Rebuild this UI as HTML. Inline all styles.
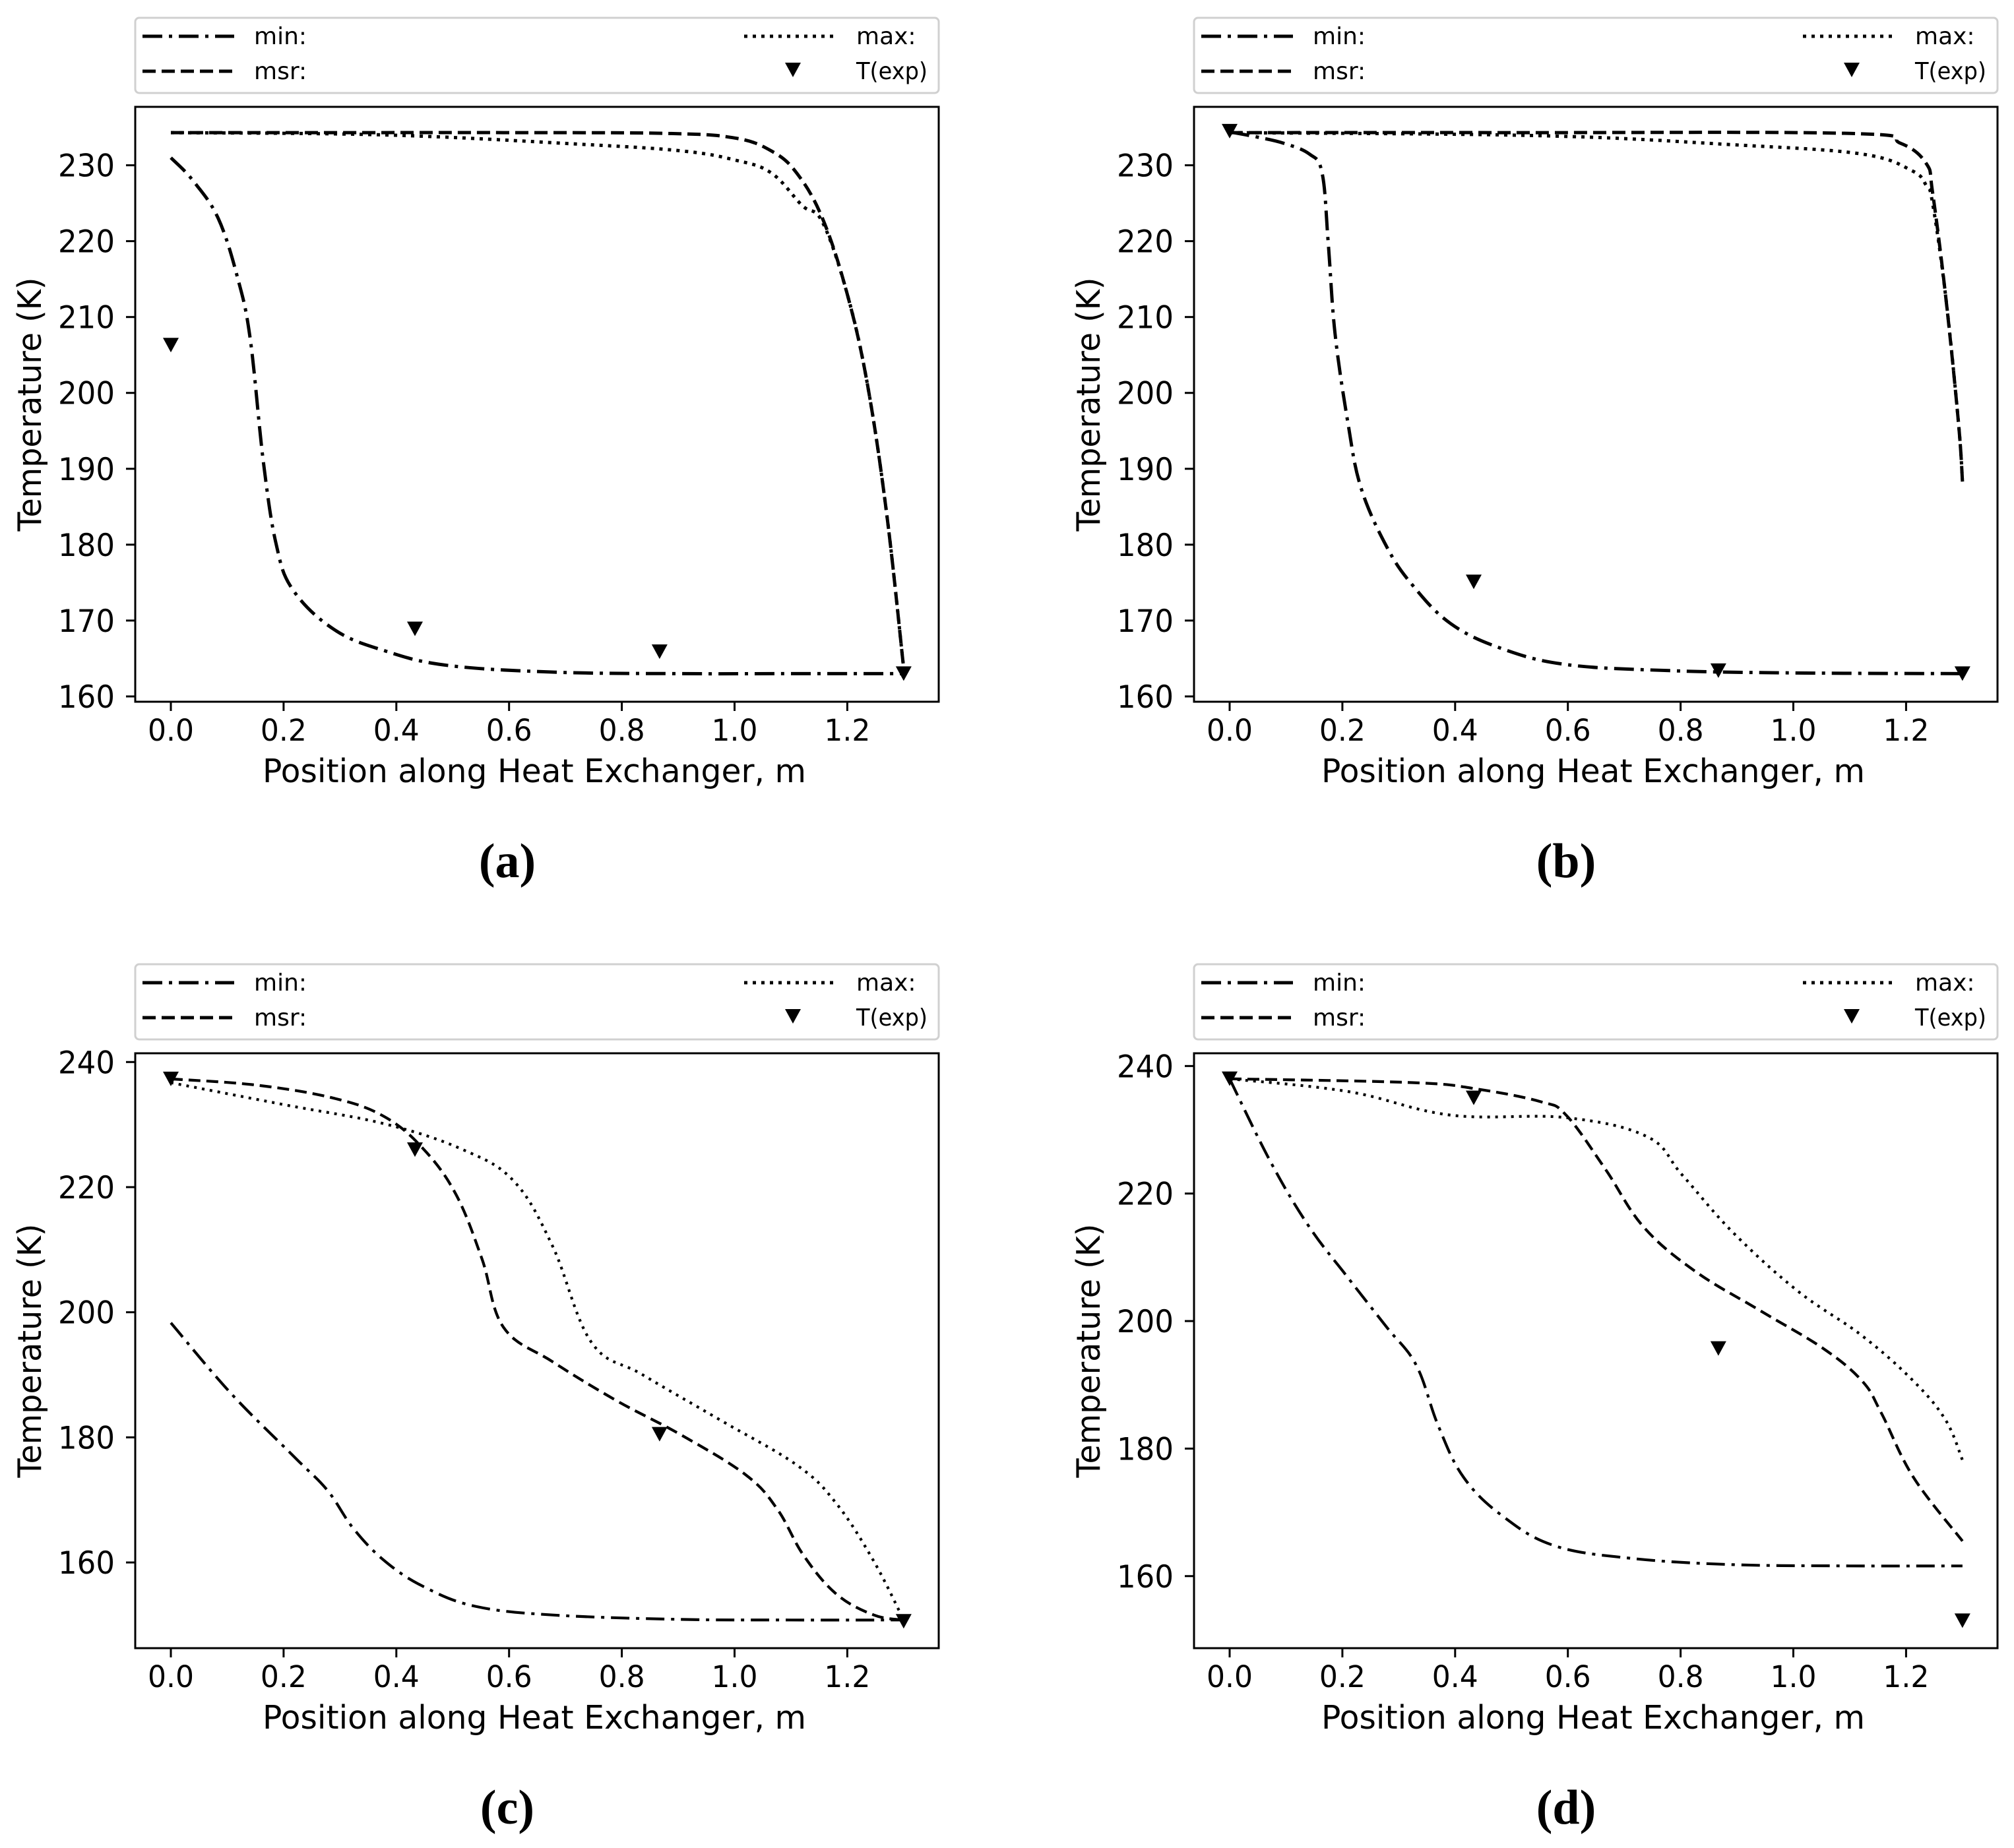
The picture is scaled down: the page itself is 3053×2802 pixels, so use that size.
<!DOCTYPE html>
<html><head><meta charset="utf-8"><style>
html,body{margin:0;padding:0;background:#fff;}
svg{display:block;}
text{font-family:"DejaVu Sans","Liberation Sans",sans-serif;fill:#000;}
</style></head><body>
<svg id="fig" width="3053" height="2802" viewBox="0 0 3053 2802" xmlns="http://www.w3.org/2000/svg"></svg>
<script>
// ---- data ----
const aMinX=[0,0.039,0.084,0.119,0.141,0.164,0.187,0.217,0.29,0.38,0.49,0.68,0.9,1.1,1.3];
const aMinY=[231,228,223,215,207,191,180,174,168.8,166,164.1,163.2,163,163,163];
const aMsrX=[0,0.3,0.6,0.88,1.0,1.065,1.11,1.156,1.2,1.236,1.27,1.3];
const aMsrY=[234.3,234.3,234.3,234.2,233.6,231.9,229,223,213,201,184,163.7];
const aMaxX=[0,0.38,0.72,0.905,1.0,1.065,1.12,1.156,1.2,1.236,1.27,1.3];
const aMaxY=[234.3,234,232.8,231.9,230.7,229,224.7,222.5,213,201,184,163.7];
const aExpX=[0,0.433,0.867,1.3];
const aExpY=[206.3,168.9,165.9,163];

const bMinX=[0,0.05,0.096,0.141,0.164,0.175,0.187,0.21,0.233,0.278,0.324,0.392,0.483,0.597,0.78,1.0,1.3];
const bMinY=[234.4,233.7,232.9,231.5,229,219.7,207.8,196,187.5,179.8,174.7,169.6,166.3,164.2,163.4,163.1,163];
const bMsrX=[0,0.5,1.1,1.19,1.236,1.247,1.27,1.293,1.3];
const bMsrY=[234.3,234.3,234.2,232.9,230.2,226.4,212.9,196,188.3];
const bMaxX=[0,0.55,0.894,1.12,1.21,1.236,1.247,1.27,1.293,1.3];
const bMaxY=[234.3,233.9,232.7,231.5,229.3,227.3,225,212.9,196,188.3];
const bExpX=[0,0.433,0.867,1.3];
const bExpY=[234.5,175.1,163.4,163];

const cMinX=[0,0.107,0.221,0.278,0.324,0.38,0.449,0.54,0.677,0.905,1.1,1.3];
const cMinY=[198.3,187,176.7,171.5,165.4,160.2,156.1,153,151.6,150.9,150.8,150.8];
const cMsrX=[0,0.153,0.29,0.38,0.449,0.506,0.552,0.59,0.677,0.79,0.905,1.02,1.076,1.122,1.18,1.247,1.3];
const cMsrY=[237.3,236.3,234.2,231.2,226,218.8,208.5,197.6,192.1,185.9,180.4,174,168.5,161.2,155,151.6,150.8];
const cMaxX=[0,0.2,0.38,0.518,0.609,0.677,0.746,0.837,0.974,1.11,1.18,1.247,1.3];
const cMaxY=[236.7,233.2,230.1,226,220.9,210.6,195.2,190,182.8,175.6,169.5,160.2,150.8];
const cExpX=[0,0.433,0.867,1.3];
const cExpY=[237.3,226,180.5,150.6];

const dMinX=[0,0.073,0.141,0.21,0.278,0.331,0.37,0.415,0.483,0.575,0.711,0.894,1.1,1.3];
const dMinY=[238,224.9,214.8,206.8,199.1,193.1,183.6,175.5,169.5,164.8,162.8,161.8,161.6,161.6];
const dMsrX=[0,0.324,0.438,0.552,0.597,0.666,0.734,0.826,0.94,1.053,1.122,1.156,1.213,1.3];
const dMsrY=[238,237.4,236.4,234.4,232.3,223.9,214.8,207.8,201.7,195.7,190.6,185.6,175.5,165.5];
const dMaxX=[0,0.21,0.392,0.597,0.741,0.803,0.894,1.008,1.122,1.213,1.27,1.3];
const dMaxY=[238,236,232.3,231.9,228.9,222.9,213.8,204.7,197.7,190.6,184.5,178.2];
const dExpX=[0,0.433,0.867,1.3];
const dExpY=[238,235,195.7,153];

const xTicks=[0,0.2,0.4,0.6,0.8,1.0,1.2];
const xTickLabels=["0.0","0.2","0.4","0.6","0.8","1.0","1.2"];
const abYTicks=[160,170,180,190,200,210,220,230];
const cdYTicks=[160,180,200,220,240];

const NS="http://www.w3.org/2000/svg";
const svg=document.getElementById('fig');
function mk(tag,attrs,parent){const e=document.createElementNS(NS,tag);for(const k in attrs)e.setAttribute(k,attrs[k]);(parent||svg).appendChild(e);return e;}

function smoothPath(P){
  let d='M'+P[0][0].toFixed(1)+','+P[0][1].toFixed(1);
  const t=0.18;
  for(let i=0;i<P.length-1;i++){
    const p0=P[i-1]||P[i],p1=P[i],p2=P[i+1],p3=P[i+2]||P[i+1];
    const c1=[p1[0]+(p2[0]-p0[0])*t,p1[1]+(p2[1]-p0[1])*t];
    const c2=[p2[0]-(p3[0]-p1[0])*t,p2[1]-(p3[1]-p1[1])*t];
    d+=` C${c1[0].toFixed(1)},${c1[1].toFixed(1)} ${c2[0].toFixed(1)},${c2[1].toFixed(1)} ${p2[0].toFixed(1)},${p2[1].toFixed(1)}`;
  }
  return d;
}

function panel(id,ox,oy,ylo,yhi,yTicks,series,expX,expY,caption,lw){
  const L=205+ox,R=1423+ox,T=162+oy,B=1064+oy;
  const g=mk('g',{});
  
  
  const xs=v=>L+(v+0.0632)/(1.3622+0.0632)*(R-L);
  const ys=v=>B-(v-ylo)/(yhi-ylo)*(B-T);
  const lg=mk('g',{},g);
  
  
  mk('rect',{x:L,y:27+oy,width:R-L,height:114,rx:6,fill:'#fff',stroke:'#d0d0d0','stroke-width':3},lg);
  const legItems=[
    {n:'min:',dash:'30,10,5,10',x1:216,x2:355,tx:385,ty:55,dn:'legend-entry-min'},
    {n:'msr:',dash:'20,9',x1:216,x2:355,tx:385,ty:108,dn:'legend-entry-msr'},
    {n:'max:',dash:'5,8',x1:1128,x2:1268,tx:1298,ty:55,dn:'legend-entry-max'},
  ];
  legItems.forEach(it=>{
    const eg=mk('g',{},lg);
    
    
    mk('line',{x1:it.x1+ox,x2:it.x2+ox,y1:it.ty+oy,y2:it.ty+oy,stroke:'#000','stroke-width':5,'stroke-dasharray':it.dash},eg);
    const t=mk('text',{x:it.tx+ox,y:it.ty+oy+12,'font-size':36},eg);t.textContent=it.n;
  });
  const eg=mk('g',{},lg);
  
  
  mk('polygon',{points:`${1190+ox},${95+oy} ${1214+ox},${95+oy} ${1202+ox},${117+oy}`,fill:'#000'},eg);
  const te=mk('text',{x:1298+ox,y:120+oy,'font-size':36,textLength:108,lengthAdjust:'spacingAndGlyphs'},eg);te.textContent='T(exp)';
  const fr=mk('rect',{x:L,y:T,width:R-L,height:B-T,fill:'none',stroke:'#000','stroke-width':3},g);
  
  
  xTicks.forEach((v,i)=>{
    const x=xs(v);
    mk('line',{x1:x,x2:x,y1:B,y2:B+14,stroke:'#000','stroke-width':3},g);
    const t=mk('text',{x:x,y:B+59,'font-size':45,'text-anchor':'middle',textLength:70,lengthAdjust:'spacingAndGlyphs'},g);
    
    
    t.textContent=xTickLabels[i];
  });
  yTicks.forEach(v=>{
    const y=ys(v);
    mk('line',{x1:L-14,x2:L,y1:y,y2:y,stroke:'#000','stroke-width':3},g);
    const t=mk('text',{x:L-31,y:y+17,'font-size':47,'text-anchor':'end',textLength:86,lengthAdjust:'spacingAndGlyphs'},g);
    
    
    t.textContent=String(v);
  });
  const xl=mk('text',{x:(L+R)/2-4,y:1186+oy,'font-size':49,'text-anchor':'middle',textLength:824,lengthAdjust:'spacingAndGlyphs'},g);
  
  
  xl.textContent='Position along Heat Exchanger, m';
  const yl=mk('text',{x:0,y:0,'font-size':49,'text-anchor':'middle',textLength:385,lengthAdjust:'spacingAndGlyphs',transform:`translate(${62+ox},${(T+B)/2}) rotate(-90)`},g);
  
  
  yl.textContent='Temperature (K)';
  series.forEach(s=>{
    const P=s.x.map((v,i)=>[xs(v),ys(s.y[i])]);
    const p=mk('path',{d:smoothPath(P),fill:'none',stroke:'#000','stroke-width':lw,'stroke-dasharray':s.dash,'stroke-linejoin':'round'},g);
    
    
  });
  expX.forEach((v,i)=>{
    const x=xs(v),y=ys(expY[i]);
    const m=mk('polygon',{points:`${x-12},${y-11} ${x+12},${y-11} ${x},${y+11}`,fill:'#000'},g);
    
    
  });
  const cap=mk('text',{x:769+ox,y:1330+oy,'font-size':74,'text-anchor':'middle','font-weight':'bold',style:'font-family:"Liberation Serif",serif'},g);
  
  
  cap.textContent=caption;
}
const DX=1605,DY=1435;
panel('a',0,0,159.3,237.7,abYTicks,[
  {x:aMinX,y:aMinY,dash:'30,10,5,10',name:'min-line'},
  {x:aMsrX,y:aMsrY,dash:'20,9',name:'msr-line'},
  {x:aMaxX,y:aMaxY,dash:'5,8',name:'max-line'}],aExpX,aExpY,'(a)',5);
panel('b',DX,0,159.3,237.7,abYTicks,[
  {x:bMinX,y:bMinY,dash:'30,10,5,10',name:'min-line'},
  {x:bMsrX,y:bMsrY,dash:'20,9',name:'msr-line'},
  {x:bMaxX,y:bMaxY,dash:'5,8',name:'max-line'}],bExpX,bExpY,'(b)',5);
panel('c',0,DY,146.3,241.4,cdYTicks,[
  {x:cMinX,y:cMinY,dash:'28,10,5,10',name:'min-line'},
  {x:cMsrX,y:cMsrY,dash:'18,9',name:'msr-line'},
  {x:cMaxX,y:cMaxY,dash:'4,8',name:'max-line'}],cExpX,cExpY,'(c)',4.2);
panel('d',DX,DY,148.7,242,cdYTicks,[
  {x:dMinX,y:dMinY,dash:'28,10,5,10',name:'min-line'},
  {x:dMsrX,y:dMsrY,dash:'18,9',name:'msr-line'},
  {x:dMaxX,y:dMaxY,dash:'4,8',name:'max-line'}],dExpX,dExpY,'(d)',4.2);
</script>
</body></html>
